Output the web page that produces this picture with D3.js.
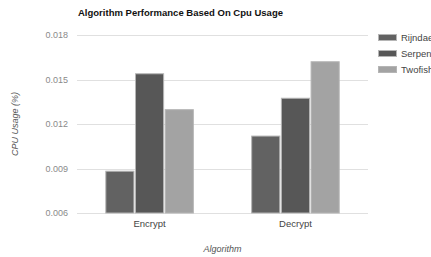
<!DOCTYPE html>
<html><head><meta charset="utf-8">
<script src="https://cdn.jsdelivr.net/npm/d3@7/dist/d3.min.js"></script>
<style>body{margin:0;background:#fff}svg{display:block}text{font-family:Arial,"Liberation Sans",sans-serif}</style>
</head><body><svg id="c" width="431" height="257"></svg>
<script>
const categories = ["Encrypt", "Decrypt"];
const seriesNames = ["Rijndael", "Serpent", "Twofish"];
const rijndael = [0.00885, 0.01122];
const serpent = [0.01542, 0.01377];
const twofish = [0.01300, 0.01623];
const yTicks = [0.006, 0.009, 0.012, 0.015, 0.018];
const colors = ["#626262", "#575757", "#a3a3a3"];
const series = [rijndael, serpent, twofish];

const svg = d3.select("#c");
const pL = 77, pR = 368, pT = 35, pB = 213;
const x = d3.scaleBand().domain(categories).range([pL, pR]).paddingInner(0.385).paddingOuter(0.19);
const xs = d3.scaleBand().domain(seriesNames).range([0, x.bandwidth()]).padding(0.02);
const y = d3.scaleLinear().domain([0.006, 0.018]).range([pB, pT]);

// gridlines
svg.append("g").selectAll("line").data(yTicks).join("line")
  .attr("x1", pL).attr("x2", pR)
  .attr("y1", d => Math.round(y(d)) + 0.5).attr("y2", d => Math.round(y(d)) + 0.5)
  .attr("stroke", "#e0e0e0").attr("stroke-width", 1);

// y axis labels
const yAxis = d3.axisLeft(y).tickValues(yTicks).tickFormat(d3.format(".3f")).tickSize(0).tickPadding(9);
const ya = svg.append("g").attr("transform", `translate(${pL},0)`).call(yAxis);
ya.select(".domain").remove();
ya.selectAll("text").attr("fill", "#8a8a8a").style("font-size", "9px").style("font-family", "Arial");

// bars
categories.forEach((c, ci) => {
  series.forEach((s, si) => {
    svg.append("rect")
      .attr("x", x(c) + xs(seriesNames[si]) + 0.5)
      .attr("y", y(s[ci]) + 0.5)
      .attr("width", xs.bandwidth() - 1)
      .attr("height", pB - y(s[ci]) - 0.5)
      .attr("fill", colors[si])
      .attr("stroke", "#b5b5b5").attr("stroke-width", 1);
  });
});

// x axis labels
const xAxis = d3.axisBottom(x).tickSize(0).tickPadding(7);
const xa = svg.append("g").attr("transform", `translate(0,${pB})`).call(xAxis);
xa.select(".domain").remove();
xa.selectAll("text").attr("fill", "#444").style("font-size", "9.5px").style("font-family", "Arial");

// title
svg.append("text").attr("x", 78).attr("y", 16).text("Algorithm Performance Based On Cpu Usage")
  .attr("font-weight", "bold").attr("font-size", "9.5px").attr("fill", "#111")
  .attr("textLength", 205).attr("lengthAdjust", "spacingAndGlyphs");

// axis titles
svg.append("text").attr("x", (pL + pR) / 2).attr("y", 252).attr("text-anchor", "middle")
  .attr("font-style", "italic").attr("font-size", "9px").attr("fill", "#555").text("Algorithm");
svg.append("text").attr("transform", "translate(18,124) rotate(-90)").attr("text-anchor", "middle")
  .attr("font-style", "italic").attr("font-size", "9px").attr("fill", "#555").text("CPU Usage (%)");

// legend
const lg = svg.append("g");
seriesNames.forEach((n, i) => {
  lg.append("rect").attr("x", 378.5).attr("y", 34.5 + i * 16).attr("width", 18).attr("height", 6)
    .attr("fill", colors[i]).attr("stroke", "#b5b5b5").attr("stroke-width", 1);
  lg.append("text").attr("x", 401).attr("y", 41 + i * 16).attr("font-size", "9.5px").attr("fill", "#444").text(n);
});
</script></body></html>
